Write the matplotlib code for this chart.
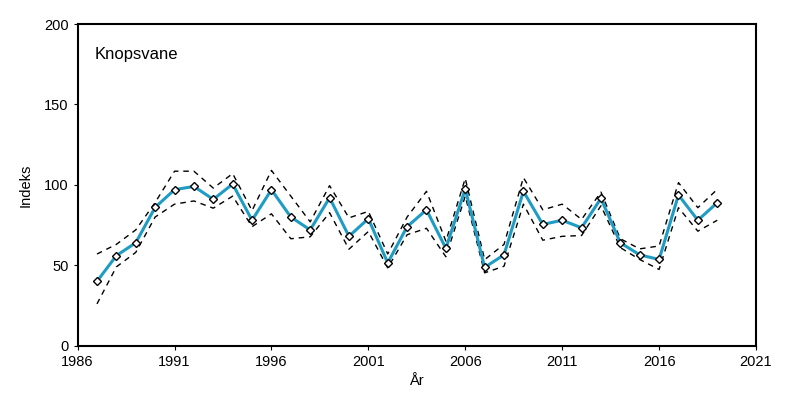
import matplotlib.pyplot as plt

plt.rcParams['font.family'] = ['Liberation Sans', 'DejaVu Sans']

years = list(range(1987, 2020))
index = [40, 56, 64, 86, 97, 99, 91, 100.5, 78, 97,
         80, 72, 92, 68, 79, 51.5, 74, 84.5, 60.5, 97.5,
         48.7, 56.5, 96, 75.4, 78, 73.3, 91.6, 64, 56.5, 53.6,
         93.7, 78, 88.9]
upper = [57, 63, 72, 89, 108.5, 108.5, 98, 107, 84, 109,
         93, 77, 99.5, 79.5, 83.5, 57, 80, 96, 65, 104,
         53.5, 63, 104.5, 84.5, 88, 78.5, 95.5, 66.5, 60.2, 62,
         101.4, 85.8, 97.2]
lower = [26, 49, 58, 80, 88, 90, 85.5, 93, 74, 82,
         66.5, 67.7, 82.7, 60, 71, 48.4, 69, 73, 55.3, 93,
         45.3, 49.4, 88, 65.6, 68, 68.5, 87, 61, 53.6, 47.4,
         85.8, 71.2, 78]

fig = plt.figure(figsize=(8, 3.94), dpi=100)
ax = fig.add_axes([0.097, 0.1226, 0.848, 0.8164])

ax.plot(years, upper, color='black', linestyle='--', linewidth=1, dashes=(4, 3.5))
ax.plot(years, lower, color='black', linestyle='--', linewidth=1, dashes=(4, 3.5))
ax.plot(years, index, color='#1e9cc4', linewidth=2.2, marker='D', markersize=4.3,
        markerfacecolor='white', markeredgecolor='black', markeredgewidth=1)

ax.set_xlim(1986, 2021)
ax.set_ylim(0, 200)
ax.set_xticks(range(1986, 2022, 5))
ax.set_yticks(range(0, 201, 50))
ax.tick_params(direction='out', length=3, width=0.8, labelsize=10.5, colors='black')
for s in ax.spines.values():
    s.set_linewidth(1.5)

ax.set_xlabel('År', fontsize=10.5, labelpad=4)
ax.set_ylabel('Indeks', fontsize=10.5, labelpad=8)
ax.text(0.025, 0.93, 'Knopsvane', transform=ax.transAxes, fontsize=12,
        ha='left', va='top')

fig.savefig('out.png', dpi=100)
